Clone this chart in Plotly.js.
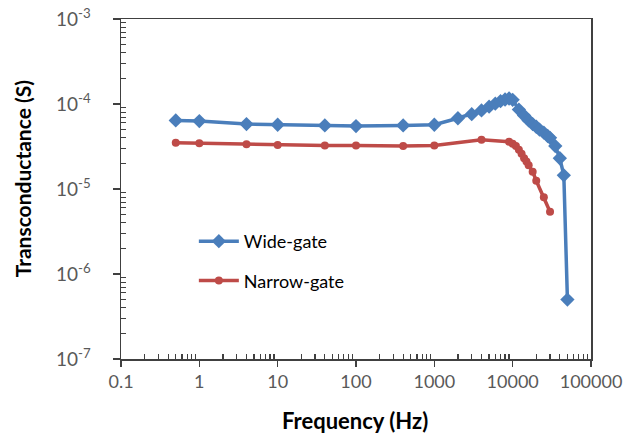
<!DOCTYPE html>
<html>
<head>
<meta charset="utf-8">
<script src="https://cdn.plot.ly/plotly-3.0.1.min.js"></script>
<style>html,body{margin:0;padding:0;background:#fff}#chart{width:625px;height:438px}</style>
</head>
<body>
<div id="chart"></div>
<script>
const wideFreq = [0.5, 1, 4, 10, 40, 100, 400, 1000, 2000, 3000, 4000, 5000, 6000, 7000, 8000, 9000, 10000, 12000, 14000, 16000, 18000, 20000, 22000, 25000, 28000, 30000, 35000, 40000, 45000, 50000];
const wideGm = [6.4e-5, 6.3e-5, 5.8e-5, 5.7e-5, 5.6e-5, 5.5e-5, 5.6e-5, 5.7e-5, 6.8e-5, 7.6e-5, 8.4e-5, 9.3e-5, 1.01e-4, 1.08e-4, 1.13e-4, 1.16e-4, 1.12e-4, 8.6e-5, 7.3e-5, 6.4e-5, 5.8e-5, 5.4e-5, 5.0e-5, 4.6e-5, 4.2e-5, 4.0e-5, 3.2e-5, 2.3e-5, 1.45e-5, 5.0e-7];
const narrowFreq = [0.5, 1, 4, 10, 40, 100, 400, 1000, 4000, 9000, 10000, 11000, 12000, 13000, 14000, 15000, 16000, 18000, 20000, 25000, 30000];
const narrowGm = [3.5e-5, 3.45e-5, 3.35e-5, 3.3e-5, 3.25e-5, 3.25e-5, 3.2e-5, 3.25e-5, 3.8e-5, 3.6e-5, 3.4e-5, 3.2e-5, 2.9e-5, 2.6e-5, 2.3e-5, 2.1e-5, 1.9e-5, 1.6e-5, 1.25e-5, 8.0e-6, 5.4e-6];
const xTickVals = [0.1, 1, 10, 100, 1000, 10000, 100000];
const xTickText = ['0.1', '1', '10', '100', '1000', '10000', '100000'];
const yTickVals = [1e-7, 1e-6, 1e-5, 1e-4, 1e-3];
const yTickText = ['10<sup>-7</sup>', '10<sup>-6</sup>', '10<sup>-5</sup>', '10<sup>-4</sup>', '10<sup>-3</sup>'];
const xTitle = 'Frequency (Hz)';
const yTitle = 'Transconductance (S)';

function minorVals(majors) {
  const out = [];
  for (let i = 0; i < majors.length - 1; i++) {
    for (let k = 2; k <= 9; k++) out.push(majors[i] * k);
  }
  return out;
}

const FONT = 'Lato, "Open Sans", sans-serif';
const traces = [
  {x: wideFreq, y: wideGm, name: 'Wide-gate', legendgroup: 'a', type: 'scatter', mode: 'lines+markers',
   line: {color: '#4A7EBB', width: 3.5}, marker: {symbol: 'diamond', size: 11, color: '#4A7EBB'}},
  {x: narrowFreq, y: narrowGm, name: 'Narrow-gate', legendgroup: 'b', type: 'scatter', mode: 'lines+markers',
   line: {color: '#BE4B48', width: 3.5}, marker: {symbol: 'circle', size: 8, color: '#BE4B48'}}
];
const layout = {
  width: 625, height: 438,
  margin: {l: 121, r: 34, t: 19, b: 79},
  paper_bgcolor: '#fff', plot_bgcolor: '#fff',
  font: {family: FONT, color: '#595959', size: 14},
  showlegend: true,
  legend: {x: 0.155, y: 0.40, xanchor: 'left', yanchor: 'top', bgcolor: 'rgba(0,0,0,0)',
           font: {family: FONT, size: 18, color: '#000'}, tracegroupgap: 13, itemwidth: 40},
  xaxis: {type: 'log', range: [-1, 5], tickvals: xTickVals, ticktext: xTickText,
          showgrid: false, zeroline: false, showline: true, linecolor: '#404040', linewidth: 1.5, mirror: true,
          ticks: 'outside', ticklen: 6, tickcolor: '#404040', tickwidth: 1.2,
          minor: {ticks: 'inside', ticklen: 5, tickmode: 'array', tickvals: minorVals(xTickVals), tickcolor: '#404040', showgrid: false},
          tickfont: {family: FONT, size: 18, color: '#595959'}},
  yaxis: {type: 'log', range: [-7, -3], tickvals: yTickVals, ticktext: yTickText,
          showgrid: false, zeroline: false, showline: true, linecolor: '#404040', linewidth: 1.5, mirror: true,
          ticks: 'outside', ticklen: 7, tickcolor: '#404040', tickwidth: 1.2, ticklabelstandoff: 18,
          minor: {ticks: 'inside', ticklen: 5, tickmode: 'array', tickvals: minorVals(yTickVals), tickcolor: '#404040', showgrid: false},
          tickfont: {family: FONT, size: 19, color: '#595959'}},
  annotations: [
    {text: '<b>' + xTitle + '</b>', xref: 'paper', yref: 'paper', x: 0.497, y: -0.182, xanchor: 'center', yanchor: 'middle',
     showarrow: false, font: {family: FONT, size: 22, color: '#000'}},
    {text: '<b>' + yTitle + '</b>', xref: 'paper', yref: 'paper', x: -0.2104, y: 0.529, xanchor: 'center', yanchor: 'middle',
     textangle: -90, showarrow: false, font: {family: FONT, size: 21, color: '#000'}}
  ]
};
Plotly.newPlot('chart', traces, layout, {displayModeBar: false, staticPlot: true});
</script>
</body>
</html>
